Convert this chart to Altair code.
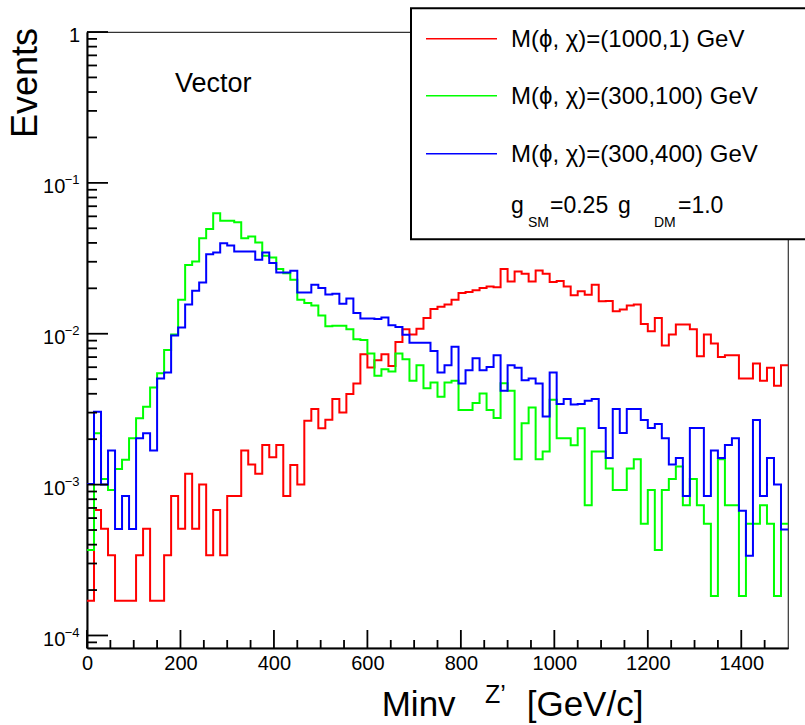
import altair as alt
import pandas as pd

# ---------------- data ----------------
BIN_W = 15  # GeV per bin, 100 bins from 0 to 1500

red_vals = [
    1.7e-4, 6.8e-4, 5.1e-4, 3.4e-4, 1.7e-4, 1.7e-4, 1.7e-4, 3.4e-4, 5.1e-4, 1.7e-4,
    1.7e-4, 3.4e-4, 8.4e-4, 5.1e-4, 1.18e-3, 5.1e-4, 1.0e-3, 3.4e-4, 6.8e-4, 3.4e-4,
    8.4e-4, 8.4e-4, 1.68e-3, 1.36e-3, 1.18e-3, 1.83e-3, 1.52e-3, 1.83e-3, 8.4e-4, 1.35e-3,
    1.0e-3, 2.65e-3, 3.17e-3, 2.36e-3, 2.69e-3, 3.69e-3, 3.01e-3, 3.98e-3, 4.68e-3, 7.3e-3,
    5.97e-3, 6.67e-3, 7.3e-3, 6.12e-3, 8.8e-3, 1.07e-2, 9.9e-3, 1.08e-2, 1.27e-2, 1.46e-2,
    1.51e-2, 1.56e-2, 1.68e-2, 1.86e-2, 1.89e-2, 1.94e-2, 2.01e-2, 2.06e-2, 2.03e-2, 2.69e-2,
    2.22e-2, 2.59e-2, 2.50e-2, 2.22e-2, 2.63e-2, 2.50e-2, 2.20e-2, 2.24e-2, 2.06e-2, 1.80e-2,
    1.91e-2, 1.81e-2, 2.11e-2, 1.64e-2, 1.65e-2, 1.41e-2, 1.45e-2, 1.54e-2, 1.56e-2, 1.16e-2,
    1.04e-2, 1.27e-2, 8.37e-3, 9.9e-3, 1.15e-2, 1.15e-2, 1.07e-2, 7.1e-3, 9.9e-3, 8.6e-3,
    7.0e-3, 7.2e-3, 7.2e-3, 5.05e-3, 5.05e-3, 6.34e-3, 4.88e-3, 5.96e-3, 4.52e-3, 6.18e-3,
]

green_vals = [
    3.68e-4, 2.19e-3, 1.09e-3, 9.2e-4, 1.27e-3, 1.46e-3, 2.03e-3, 2.75e-3, 3.28e-3, 4.4e-3,
    5.47e-3, 7.8e-3, 9.9e-3, 1.68e-2, 2.86e-2, 3.01e-2, 4.29e-2, 4.95e-2, 6.28e-2, 5.62e-2,
    5.62e-2, 5.48e-2, 4.29e-2, 4.41e-2, 4.02e-2, 3.29e-2, 3.2e-2, 2.69e-2, 2.52e-2, 2.28e-2,
    1.68e-2, 1.60e-2, 1.54e-2, 1.32e-2, 1.12e-2, 1.13e-2, 1.13e-2, 1.07e-2, 9.2e-3, 9.1e-3,
    7.4e-3, 5.26e-3, 5.82e-3, 5.61e-3, 7.4e-3, 6.78e-3, 4.88e-3, 6.18e-3, 4.36e-3, 4.75e-3,
    3.82e-3, 4.75e-3, 4.88e-3, 3.12e-3, 3.12e-3, 3.47e-3, 4.02e-3, 3.12e-3, 2.76e-3, 4.70e-3,
    4.19e-3, 1.47e-3, 2.55e-3, 3.25e-3, 1.47e-3, 1.66e-3, 3.65e-3, 2.03e-3, 2.03e-3, 1.82e-3,
    2.36e-3, 7.3e-4, 1.66e-3, 1.66e-3, 1.28e-3, 9.2e-4, 9.2e-4, 1.28e-3, 1.47e-3, 5.5e-4,
    9.2e-4, 3.68e-4, 9.2e-4, 1.09e-3, 1.32e-3, 7.3e-4, 1.09e-3, 7.3e-4, 5.5e-4, 1.83e-4,
    1.47e-3, 7.3e-4, 7.3e-4, 1.83e-4, 5.5e-4, 5.5e-4, 7.3e-4, 5.5e-4, 1.83e-4, 5.5e-4,
]

blue_vals = [
    1.01e-3, 3.04e-3, 1.0e-3, 1.68e-3, 5.07e-4, 8.4e-4, 5.07e-4, 2.03e-3, 2.19e-3, 1.68e-3,
    5.05e-3, 5.53e-3, 9.75e-3, 1.1e-2, 1.56e-2, 1.93e-2, 2.19e-2, 3.37e-2, 3.46e-2, 3.98e-2,
    3.85e-2, 3.51e-2, 3.51e-2, 3.51e-2, 3.09e-2, 3.46e-2, 2.94e-2, 2.55e-2, 2.55e-2, 2.62e-2,
    1.88e-2, 1.88e-2, 2.11e-2, 2.01e-2, 1.82e-2, 1.84e-2, 1.58e-2, 1.71e-2, 1.37e-2, 1.26e-2,
    1.26e-2, 1.25e-2, 1.28e-2, 1.14e-2, 1.11e-2, 9.85e-3, 8.7e-3, 8.7e-3, 8.7e-3, 7.67e-3,
    5.53e-3, 6.18e-3, 8.2e-3, 4.68e-3, 5.73e-3, 6.87e-3, 5.73e-3, 6.03e-3, 7.19e-3, 4.19e-3,
    6.18e-3, 5.96e-3, 4.92e-3, 5.05e-3, 4.68e-3, 2.83e-3, 5.53e-3, 3.42e-3, 3.69e-3, 3.40e-3,
    3.42e-3, 3.60e-3, 3.69e-3, 2.37e-3, 1.50e-3, 3.17e-3, 2.20e-3, 3.17e-3, 3.17e-3, 2.68e-3,
    2.37e-3, 2.52e-3, 2.03e-3, 1.36e-3, 1.50e-3, 8.4e-4, 2.37e-3, 2.37e-3, 8.4e-4, 1.68e-3,
    1.50e-3, 1.83e-3, 2.03e-3, 6.7e-4, 3.37e-4, 2.68e-3, 8.4e-4, 1.50e-3, 1.0e-3, 5.04e-4,
]

series_labels = ["M(ϕ, χ)=(1000,1) GeV", "M(ϕ, χ)=(300,100) GeV", "M(ϕ, χ)=(300,400) GeV"]
series_colors = ["#ff0000", "#00ff00", "#0000ff"]

x_major_ticks = [0, 200, 400, 600, 800, 1000, 1200, 1400]
x_minor_ticks = [50, 100, 150, 250, 300, 350, 450, 500, 550, 650, 700, 750, 850, 900, 950,
                 1050, 1100, 1150, 1250, 1300, 1350, 1450]
y_decades = [1e-4, 1e-3, 1e-2, 1e-1]
y_decade_exps = ["−4", "−3", "−2", "−1"]
y_major_ticks = [1e-4, 1e-3, 1e-2, 1e-1, 1.0]
y_minor_mult = [2, 3, 4, 5, 6, 7, 8, 9]

X_MIN, X_MAX = 0, 1500
Y_MIN, Y_MAX = 8.26e-5, 1.0

# ---------------- layout ----------------
W, H = 701, 616
PAD_L, PAD_T = 87, 32
FONT = "Liberation Sans"


def step_df(vals):
    edges = [i * BIN_W for i in range(len(vals) + 1)]
    ys = list(vals) + [vals[-1]]
    return pd.DataFrame({"x": edges, "y": ys})


xscale = alt.Scale(domain=[X_MIN, X_MAX], nice=False, zero=False)
yscale = alt.Scale(type="log", domain=[Y_MIN, Y_MAX], nice=False)

x_axis = alt.Axis(values=x_major_ticks, ticks=False, grid=False, title=None, format="d",
                  labelFont=FONT, labelFontSize=20, labelColor="black", labelPadding=5,
                  domainColor="black", domainWidth=2, labelFlush=False)
y_axis = alt.Axis(labels=False, ticks=False, grid=False, title=None,
                  domainColor="black", domainWidth=2)


def X(field="x"):
    return alt.X(f"{field}:Q", scale=xscale, axis=x_axis)


def Y(field="y"):
    return alt.Y(f"{field}:Q", scale=yscale, axis=y_axis)


layers = []

# histogram lines: red, green, blue (blue on top)
for i, vals in enumerate([red_vals, green_vals, blue_vals]):
    layers.append(
        alt.Chart(step_df(vals)).mark_line(interpolate="step-after", color=series_colors[i],
                                           strokeWidth=2).encode(x=X(), y=Y())
    )

# inward ticks on x axis
xt_major = pd.DataFrame({"x": x_major_ticks})
xt_minor = pd.DataFrame({"x": x_minor_ticks})
layers.append(alt.Chart(xt_major).mark_rule(color="black", strokeWidth=1.8).encode(
    x=X(), y=alt.value(H), y2=alt.value(H - 18)))
layers.append(alt.Chart(xt_minor).mark_rule(color="black", strokeWidth=1.8).encode(
    x=X(), y=alt.value(H), y2=alt.value(H - 8)))

# inward ticks on y axis
yt_major = pd.DataFrame({"y": y_major_ticks})
minor_vals = [m * d for d in [1e-5] + y_decades for m in y_minor_mult if Y_MIN <= m * d <= Y_MAX]
yt_minor = pd.DataFrame({"y": minor_vals})
layers.append(alt.Chart(yt_major).mark_rule(color="black", strokeWidth=1.8).encode(
    y=Y(), x=alt.value(0), x2=alt.value(21)))
layers.append(alt.Chart(yt_minor).mark_rule(color="black", strokeWidth=1.8).encode(
    y=Y(), x=alt.value(0), x2=alt.value(10)))

# y tick labels: 10^{-n}
ylab = pd.DataFrame({"y": y_decades, "base": ["10"] * len(y_decades), "exp": y_decade_exps})
layers.append(alt.Chart(ylab).mark_text(align="right", baseline="alphabetic", dy=10.6,
                                        font=FONT, fontSize=20, color="black").encode(
    y=Y(), x=alt.value(-21.7), text="base:N"))
layers.append(alt.Chart(ylab).mark_text(align="right", baseline="alphabetic", dy=1.3,
                                        font=FONT, fontSize=13, color="black").encode(
    y=Y(), x=alt.value(-7.4), text="exp:N"))
layers.append(alt.Chart(pd.DataFrame({"y": [1.0], "t": ["1"]})).mark_text(
    align="right", baseline="alphabetic", dy=10, font=FONT, fontSize=20, color="black").encode(
    y=Y(), x=alt.value(-7), text="t:N"))


def txt(s, x, y, size, align="left", angle=None):
    kw = dict(align=align, baseline="alphabetic", font=FONT, fontSize=size, color="black")
    if angle is not None:
        kw["angle"] = angle
    return alt.Chart(pd.DataFrame({"t": [s]})).mark_text(**kw).encode(
        x=alt.value(x), y=alt.value(y), text="t:N")


# legend box
layers.append(alt.Chart(pd.DataFrame({"a": [0]})).mark_rect(
    fill="white", stroke="black", strokeWidth=2).encode(
    x=alt.value(411 - PAD_L), x2=alt.value(760), y=alt.value(8.3 - PAD_T), y2=alt.value(239.3 - PAD_T)))

row_y = [38.7, 95.7, 153.7]
for lab, col, ry in zip(series_labels, series_colors, row_y):
    layers.append(alt.Chart(pd.DataFrame({"a": [0]})).mark_rule(color=col, strokeWidth=1.5).encode(
        x=alt.value(426 - PAD_L), x2=alt.value(497 - PAD_L), y=alt.value(ry - PAD_T)))
    layers.append(txt(lab, 511 - PAD_L, ry - PAD_T + 8.5, 24))

gy = 213 - PAD_T
sy = 227 - PAD_T
layers += [
    txt("g", 511 - PAD_L, gy, 23), txt("SM", 528 - PAD_L, sy, 14), txt("=0.25", 550 - PAD_L, gy, 23),
    txt("g", 618 - PAD_L, gy, 23), txt("DM", 654 - PAD_L, sy, 14), txt("=1.0", 678 - PAD_L, gy, 23),
]

# annotations and axis titles
layers += [
    txt("Vector", 175 - PAD_L, 91.7 - PAD_T, 27),
    txt("Events", 37 - PAD_L, 28 - PAD_T, 36, align="right", angle=270),
    txt("Minv", 381.7 - PAD_L, 716 - PAD_T, 35),
    txt("Z’", 485 - PAD_L, 703 - PAD_T, 25),
    txt("[GeV/c]", 526.7 - PAD_L, 716 - PAD_T, 35),
]

chart = alt.layer(*layers).properties(
    width=W, height=H,
    autosize=alt.AutoSizeParams(type="none"),
    padding={"left": PAD_L, "top": PAD_T, "right": 805 - PAD_L - W, "bottom": 725 - PAD_T - H},
    background="white",
).configure_view(stroke="#333", strokeWidth=1.2)

chart.save("out.html", embed_options={"renderer": "svg", "actions": False})
